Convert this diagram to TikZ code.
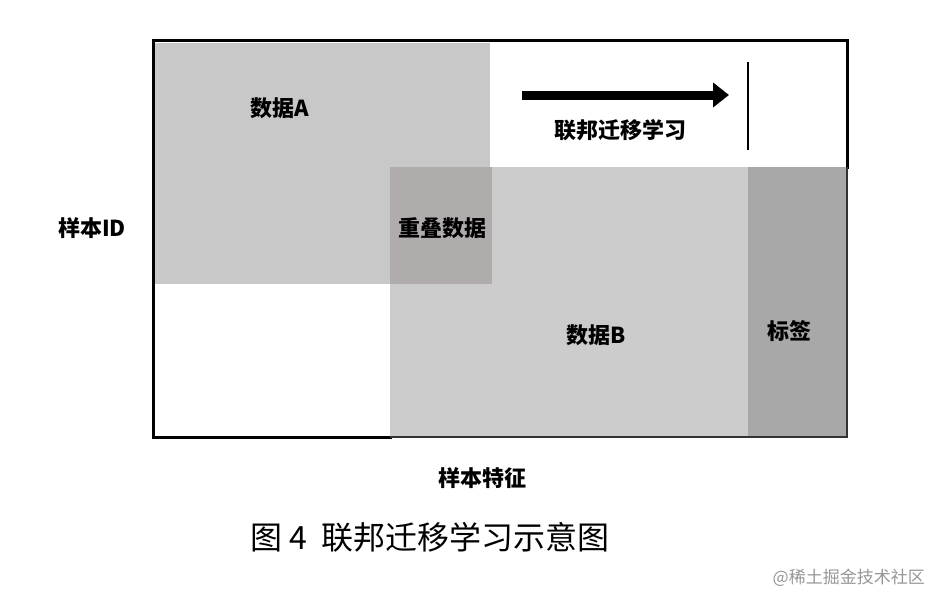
\documentclass[tikz,border=0pt]{standalone}
\usepackage{xcolor}
\usepackage{fontspec}
\usepackage{tikz}
\usetikzlibrary{arrows.meta,positioning}
\newfontfamily\cjk{Noto Sans CJK SC}
\definecolor{dataagray}{RGB}{200,200,200}
\definecolor{databgray}{RGB}{204,204,204}
\definecolor{overlapgray}{RGB}{176,172,171}
\definecolor{labelgray}{RGB}{168,168,168}
\definecolor{markgray}{RGB}{150,150,150}

\begin{document}
\begin{tikzpicture}[
    x=1pt, y=-1pt,
    tag/.style={inner sep=0pt, font={\cjk\bfseries\fontsize{22}{26}\selectfont}},
    caption/.style={inner sep=0pt, font={\cjk\fontsize{32}{37}\selectfont}},
    watermark/.style={inner sep=0pt, text=markgray, font={\cjk\fontsize{17}{20}\selectfont}},
    frame/.style={line width=3pt, line cap=rect},
    bigarrow/.style={-{Triangle[length=16pt, width=24pt]}, line width=9pt}
]
\useasboundingbox (0,0) rectangle (931,594);

% regions
\fill[dataagray] (155,43) rectangle (490,284);
\fill[databgray] (390,167) rectangle (847,437);
\fill[overlapgray] (390,167) rectangle (492,284);
\fill[labelgray] (748,167) rectangle (846,437);

% outer frame
\draw[frame] (847,167) -- (847,41) -- (153,41) -- (153,437) -- (390,437);
\draw[line width=1.5pt, black!80] (390,437) -- (847,437) -- (847,167);

% labels
\node[tag] (dataA) at (280,108) {数据A};
\node[tag] (overlap) at (442,228) {重叠数据};
\node[tag] (dataB) at (596,335) {数据B};
\node[tag] (label) at (789,331) {标签};
\node[tag] (sampleid) at (92,228) {样本ID};
\node[tag] (feature) at (482,478) {样本特征};
\node[tag] (transfer) at (620,130) {联邦迁移学习};

% arrow and bar
\coordinate (arrowstart) at (522,95);
\coordinate (arrowend) at (729,95);
\coordinate (bartop) at (748,62);
\coordinate (barbottom) at (748,150);
\draw[bigarrow] (arrowstart) -- (arrowend);
\draw[line width=2pt] (bartop) -- (barbottom);

% caption
\node[caption] (fig) at (430,537) {图 4\ \ 联邦迁移学习示意图};
\node[watermark, anchor=east] (mark) at (925,578) {@稀土掘金技术社区};

\end{tikzpicture}
\end{document}
